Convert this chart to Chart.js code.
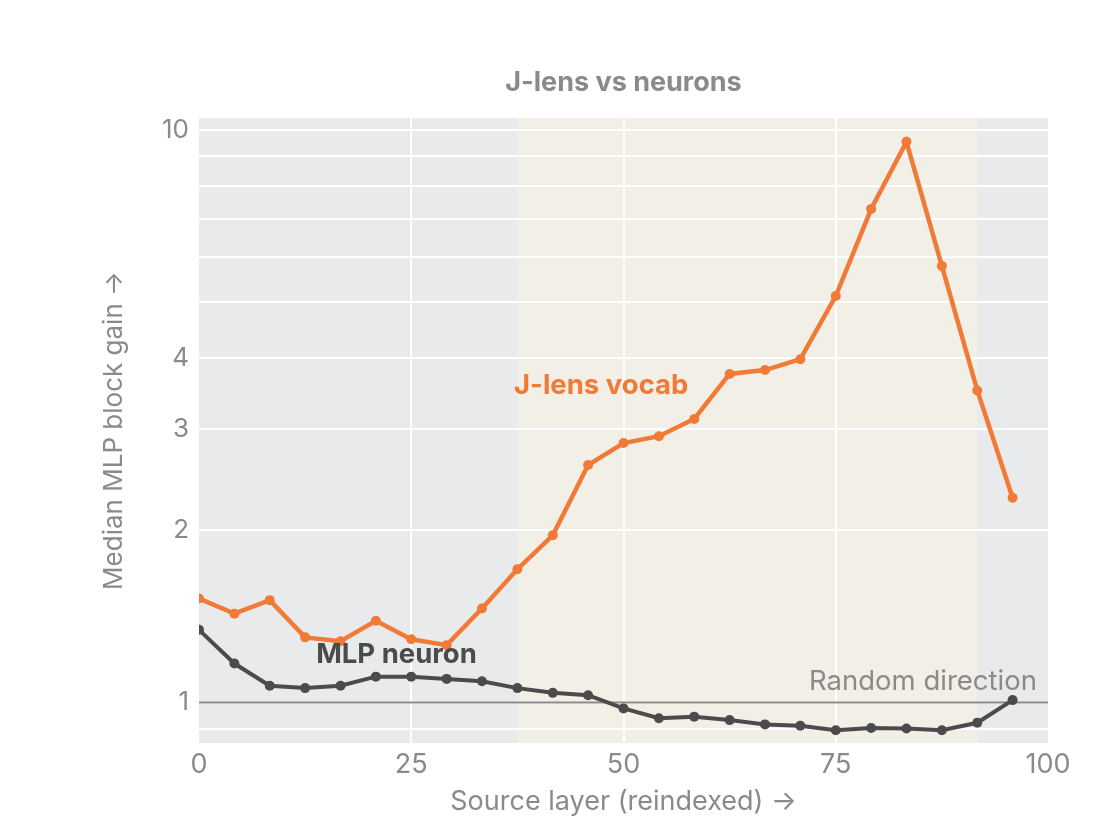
<!DOCTYPE html>
<html>
<head>
<meta charset="utf-8">
<script src="https://cdn.jsdelivr.net/npm/chart.js@4"></script>
<style>
  html, body { margin: 0; padding: 0; background: #fff; }
  #wrap { width: 1096px; height: 822px; }
</style>
</head>
<body>
<div id="wrap"><canvas id="chart" width="1096" height="822"></canvas></div>
<script>
// source layers (reindexed), 24 evenly spaced layers
const layers = [0, 4.17, 8.33, 12.5, 16.67, 20.83, 25, 29.17, 33.33, 37.5, 41.67, 45.83,
  50, 54.17, 58.33, 62.5, 66.67, 70.83, 75, 79.17, 83.33, 87.5, 91.67, 95.83];

// median MLP block gain per layer
const jlensVocab = [1.52, 1.43, 1.51, 1.30, 1.28, 1.39, 1.29, 1.26, 1.46, 1.71, 1.96, 2.60,
  2.84, 2.92, 3.13, 3.75, 3.81, 3.98, 5.13, 7.28, 9.54, 5.79, 3.51, 2.28];
const mlpNeuron = [1.34, 1.17, 1.07, 1.06, 1.07, 1.11, 1.11, 1.10, 1.09, 1.06, 1.04, 1.03,
  0.977, 0.939, 0.945, 0.932, 0.916, 0.911, 0.895, 0.903, 0.901, 0.895, 0.922, 1.01];
const randomBaseline = 1;

// axis ticks
const xTicks = [0, 25, 50, 75, 100];
const yGridValues = [0.9, 1, 2, 3, 4, 5, 6, 7, 8, 9, 10];
const yTickLabels = [1, 2, 3, 4, 10];

// shaded span of layers
const highlightSpan = [37.5, 91.67];

const FONT = 'Inter, "Noto Sans", sans-serif';
const ORANGE = '#f07a36';
const DARK = '#4b4b4b';
const GRAY_TEXT = '#8a8a8a';

const pts = (ys) => layers.map((x, i) => ({ x: x, y: ys[i] }));

// background panels + annotations
const decorPlugin = {
  id: 'decor',
  beforeDraw(chart) {
    const { ctx, chartArea: a, scales } = chart;
    ctx.save();
    ctx.fillStyle = '#e9eaec';
    ctx.fillRect(a.left, a.top, a.right - a.left, a.bottom - a.top);
    const x0 = scales.x.getPixelForValue(highlightSpan[0]);
    const x1 = scales.x.getPixelForValue(highlightSpan[1]);
    ctx.fillStyle = '#f2efe7';
    ctx.fillRect(x0, a.top, x1 - x0, a.bottom - a.top);
    ctx.restore();
  },
  afterDraw(chart) {
    const { ctx, chartArea: a, scales } = chart;
    const sx = scales.x, sy = scales.y;
    ctx.save();
    ctx.textBaseline = 'middle';

    // title
    ctx.font = 'bold 27px ' + FONT;
    ctx.fillStyle = GRAY_TEXT;
    ctx.textAlign = 'center';
    ctx.fillText('J-lens vs neurons', (a.left + a.right) / 2, 83);

    // series labels
    ctx.textAlign = 'left';
    ctx.font = 'bold 27.5px ' + FONT;
    ctx.fillStyle = ORANGE;
    ctx.fillText('J-lens vocab', sx.getPixelForValue(37.1), sy.getPixelForValue(3.58));
    ctx.fillStyle = DARK;
    ctx.fillText('MLP neuron', sx.getPixelForValue(13.8), sy.getPixelForValue(1.213));

    ctx.textAlign = 'right';
    ctx.font = '27.5px ' + FONT;
    ctx.fillStyle = GRAY_TEXT;
    ctx.fillText('Random direction', sx.getPixelForValue(98.7), sy.getPixelForValue(1.088));
    ctx.restore();
  }
};

const ctx = document.getElementById('chart').getContext('2d');
new Chart(ctx, {
  type: 'line',
  data: {
    datasets: [
      {
        label: 'Random direction',
        data: [{ x: 0, y: randomBaseline }, { x: 100, y: randomBaseline }],
        borderColor: '#8c8c8c',
        borderWidth: 2,
        pointRadius: 0,
        order: 3
      },
      {
        label: 'MLP neuron',
        data: pts(mlpNeuron),
        borderColor: DARK,
        backgroundColor: DARK,
        borderWidth: 4,
        pointRadius: 5,
        pointBorderWidth: 0,
        order: 2
      },
      {
        label: 'J-lens vocab',
        data: pts(jlensVocab),
        borderColor: ORANGE,
        backgroundColor: ORANGE,
        borderWidth: 4.5,
        pointRadius: 5,
        pointBorderWidth: 0,
        order: 1
      }
    ]
  },
  options: {
    responsive: false,
    animation: false,
    devicePixelRatio: 1,
    layout: { padding: { left: 97, right: 48, top: 118, bottom: 0 } },
    plugins: {
      legend: { display: false },
      tooltip: { enabled: false }
    },
    scales: {
      x: {
        type: 'linear',
        min: 0,
        max: 100,
        afterBuildTicks: (s) => { s.ticks = xTicks.map(v => ({ value: v })); },
        afterFit: (s) => { s.height = 79; },
        border: { display: false },
        grid: {
          drawTicks: false,
          lineWidth: 2,
          color: (c) => (c.tick && (c.tick.value === 0 || c.tick.value === 100)) ? 'rgba(0,0,0,0)' : '#ffffff'
        },
        ticks: {
          padding: 6,
          color: GRAY_TEXT,
          font: { family: FONT, size: 27 },
          maxRotation: 0
        },
        title: {
          display: true,
          text: 'Source layer (reindexed) →',
          color: GRAY_TEXT,
          font: { family: FONT, size: 27 },
          padding: { top: 2 }
        }
      },
      y: {
        type: 'logarithmic',
        min: 0.85,
        max: 10.5,
        afterBuildTicks: (s) => { s.ticks = yGridValues.map(v => ({ value: v })); },
        afterFit: (s) => { s.width = 102; },
        border: { display: false },
        grid: {
          drawTicks: false,
          lineWidth: 2,
          color: '#ffffff'
        },
        ticks: {
          autoSkip: false,
          padding: 10,
          color: GRAY_TEXT,
          font: { family: FONT, size: 26 },
          callback: (v) => yTickLabels.includes(v) ? String(v) : ''
        },
        title: {
          display: true,
          text: 'Median MLP block gain →',
          color: GRAY_TEXT,
          font: { family: FONT, size: 26 },
          padding: { top: 2, bottom: 0 }
        }
      }
    }
  },
  plugins: [decorPlugin]
});
</script>
</body>
</html>
